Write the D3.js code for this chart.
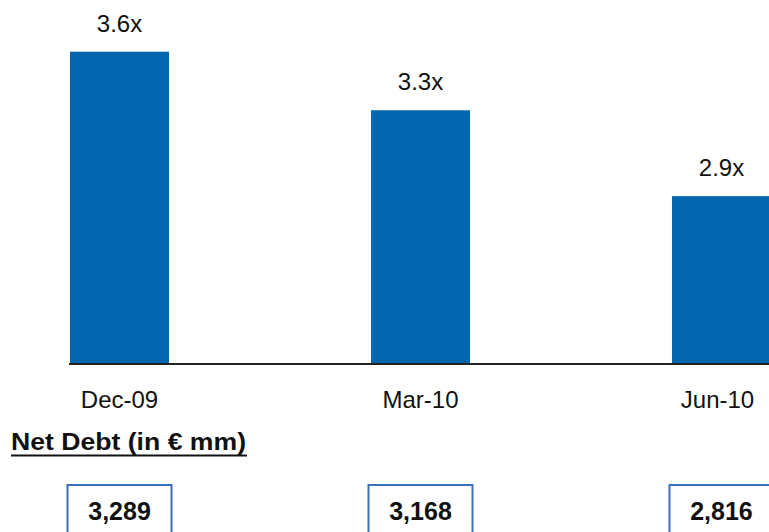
<!DOCTYPE html>
<html>
<head>
<meta charset="utf-8">
<script src="https://cdn.jsdelivr.net/npm/d3@7"></script>
<style>
  html, body { margin: 0; padding: 0; background: #fff; }
  svg { display: block; font-family: "Liberation Sans", Arial, Helvetica, sans-serif; }
</style>
</head>
<body>
<script>
// leverage ratio per quarter (bar heights)
const categories = ["Dec-09", "Mar-10", "Jun-10"];
const leverage = [3.6, 3.3, 2.86];
// net debt in EUR mm
const netDebt = [3289, 3168, 2816];

const width = 769;
const height = 532;
const baseline = 364;

const svg = d3.select("body").append("svg")
  .attr("width", width)
  .attr("height", height);

const x = d3.scaleBand()
  .domain(categories)
  .range([70, 771])
  .paddingInner(0.671)
  .paddingOuter(0);

const y = d3.scaleLinear()
  .domain([2.0, 3.6])
  .range([baseline, 51.7]);

// bars
svg.append("g")
  .selectAll("rect")
  .data(leverage)
  .join("rect")
  .attr("x", (d, i) => x(categories[i]))
  .attr("y", d => y(d))
  .attr("width", x.bandwidth())
  .attr("height", d => baseline - y(d))
  .attr("fill", "#0566b0");

// value labels
svg.append("g")
  .selectAll("text")
  .data(leverage)
  .join("text")
  .attr("x", (d, i) => x(categories[i]) + x.bandwidth() / 2)
  .attr("y", d => y(d) - 20)
  .attr("text-anchor", "middle")
  .attr("font-size", 24)
  .attr("fill", "#111")
  .text(d => d.toFixed(1) + "x");

// baseline
svg.append("line")
  .attr("x1", 69)
  .attr("x2", width)
  .attr("y1", baseline)
  .attr("y2", baseline)
  .attr("stroke", "#222")
  .attr("stroke-width", 2);

// category labels
svg.append("g")
  .selectAll("text")
  .data(categories)
  .join("text")
  .attr("x", (d, i) => x(d) + x.bandwidth() / 2 - (i === 2 ? 4 : 0))
  .attr("y", 408)
  .attr("text-anchor", "middle")
  .attr("font-size", 24)
  .attr("fill", "#111")
  .text(d => d);

// section title, underlined
svg.append("text")
  .attr("x", 11)
  .attr("y", 450)
  .attr("font-size", 23.5)
  .attr("font-weight", "bold")
  .attr("textLength", 235)
  .attr("lengthAdjust", "spacingAndGlyphs")
  .attr("fill", "#111")
  .text("Net Debt (in € mm)");

svg.append("line")
  .attr("x1", 11)
  .attr("x2", 247)
  .attr("y1", 455.5)
  .attr("y2", 455.5)
  .attr("stroke", "#111")
  .attr("stroke-width", 2);

// net debt boxes
const fmt = d3.format(",");
const boxW = 104;
const boxes = svg.append("g")
  .selectAll("g")
  .data(netDebt)
  .join("g")
  .attr("transform", (d, i) => `translate(${x(categories[i]) + x.bandwidth() / 2},0)`);

boxes.append("rect")
  .attr("x", -boxW / 2)
  .attr("y", 485)
  .attr("width", boxW)
  .attr("height", 60)
  .attr("fill", "none")
  .attr("stroke", "#3a70b8")
  .attr("stroke-width", 2);

boxes.append("text")
  .attr("y", 520)
  .attr("text-anchor", "middle")
  .attr("font-size", 25)
  .attr("font-weight", "bold")
  .attr("fill", "#111")
  .text(d => fmt(d));
</script>
</body>
</html>
